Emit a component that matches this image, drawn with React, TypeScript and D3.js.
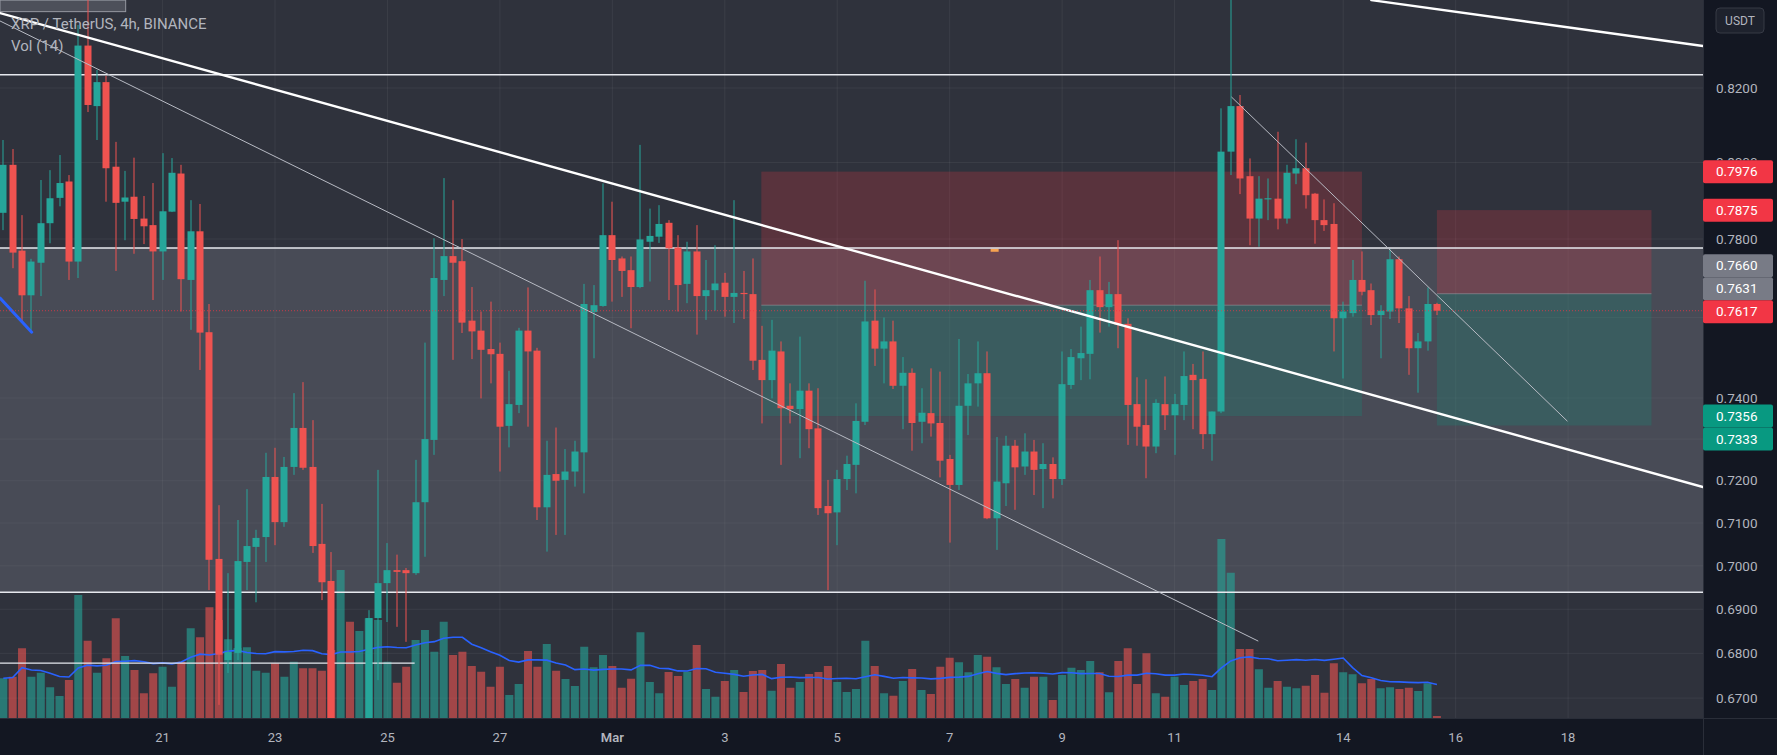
import React, { useEffect } from "react";
import * as d3 from "d3";

// ---------- DATA (4h bars, XRP/USDT, starting 2022-02-18 04:00 UTC) ----------
const OPEN = [
  0.7868, 0.7994, 0.7770, 0.7656, 0.7739, 0.7841, 0.7907, 0.7950, 0.7742, 0.8316,
  0.8151, 0.8216, 0.7989, 0.7897, 0.7910, 0.7853, 0.7836, 0.7768, 0.7871, 0.7971,
  0.7695, 0.7820, 0.7563, 0.7016, 0.6785, 0.6801, 0.7009, 0.7044, 0.7067, 0.7209,
  0.7102, 0.7233, 0.7327, 0.7233, 0.7051, 0.6965, 0.6600, 0.6630, 0.6590, 0.6640,
  0.6880, 0.6960, 0.6990, 0.6990, 0.6983, 0.7149, 0.7298, 0.7695, 0.7756, 0.7743,
  0.7592, 0.7567, 0.7521, 0.7509, 0.7332, 0.7383, 0.7567, 0.7517, 0.7137, 0.7216,
  0.7202, 0.7222, 0.7268, 0.7614, 0.7629, 0.7810, 0.7750, 0.7720, 0.7677, 0.7793,
  0.7806, 0.7842, 0.7778, 0.7685, 0.7768, 0.7654, 0.7669, 0.7688, 0.7652, 0.7662,
  0.7659, 0.7494, 0.7444, 0.7515, 0.7381, 0.7373, 0.7418, 0.7326, 0.7140, 0.7125,
  0.7204, 0.7238, 0.7342, 0.7592, 0.7522, 0.7540, 0.7430, 0.7462, 0.7342, 0.7363,
  0.7339, 0.7252, 0.7190, 0.7381, 0.7436, 0.7461, 0.7111, 0.7194, 0.7284, 0.7234,
  0.7270, 0.7228, 0.7240, 0.7204, 0.7432, 0.7498, 0.7509, 0.7669, 0.7626, 0.7659,
  0.7584, 0.7385, 0.7334, 0.7282, 0.7385, 0.7358, 0.7383, 0.7457, 0.7447, 0.7312,
  0.7367, 0.8029, 0.8151, 0.7964, 0.7853, 0.7903, 0.7905, 0.7853, 0.7971, 0.7985,
  0.7918, 0.7849, 0.7839, 0.7598, 0.7611, 0.7695, 0.7669, 0.7606, 0.7615, 0.7748,
  0.7623, 0.7523, 0.7540, 0.7634,
];
const HIGH = [
  0.8060, 0.8036, 0.7862, 0.7749, 0.7954, 0.7980, 0.8020, 0.7967, 0.8373, 0.8485,
  0.8249, 0.8233, 0.8055, 0.7978, 0.8013, 0.7912, 0.7946, 0.8025, 0.8012, 0.7994,
  0.7901, 0.7891, 0.7634, 0.7142, 0.6983, 0.7107, 0.7180, 0.7084, 0.7267, 0.7279,
  0.7257, 0.7412, 0.7439, 0.7346, 0.7145, 0.7032, 0.6640, 0.6645, 0.6640, 0.6898,
  0.7226, 0.7053, 0.7026, 0.6995, 0.7250, 0.7537, 0.7802, 0.7959, 0.7901, 0.7800,
  0.7677, 0.7615, 0.7640, 0.7537, 0.7467, 0.7574, 0.7676, 0.7524, 0.7296, 0.7328,
  0.7276, 0.7296, 0.7685, 0.7682, 0.7945, 0.7897, 0.7755, 0.7755, 0.8047, 0.7879,
  0.7888, 0.7849, 0.7810, 0.7793, 0.7836, 0.7746, 0.7784, 0.7713, 0.7901, 0.7718,
  0.7750, 0.7579, 0.7594, 0.7540, 0.7436, 0.7552, 0.7436, 0.7424, 0.7202, 0.7226,
  0.7260, 0.7387, 0.7693, 0.7671, 0.7600, 0.7592, 0.7501, 0.7473, 0.7424, 0.7473,
  0.7465, 0.7262, 0.7546, 0.7459, 0.7540, 0.7515, 0.7305, 0.7308, 0.7298, 0.7314,
  0.7298, 0.7290, 0.7256, 0.7515, 0.7521, 0.7577, 0.7695, 0.7755, 0.7690, 0.7797,
  0.7598, 0.7451, 0.7446, 0.7397, 0.7453, 0.7410, 0.7515, 0.7484, 0.7515, 0.7367,
  0.8145, 0.8456, 0.8181, 0.8011, 0.7964, 0.7958, 0.8082, 0.7994, 0.8062, 0.8053,
  0.7920, 0.7903, 0.7893, 0.7640, 0.7746, 0.7768, 0.7686, 0.7631, 0.7774, 0.7755,
  0.7654, 0.7561, 0.7676, 0.7637,
];
const LOW = [
  0.7823, 0.7725, 0.7589, 0.7567, 0.7654, 0.7789, 0.7885, 0.7695, 0.7700, 0.8135,
  0.8060, 0.7897, 0.7718, 0.7797, 0.7762, 0.7787, 0.7644, 0.7695, 0.7870, 0.7615,
  0.7569, 0.7469, 0.6944, 0.6685, 0.6756, 0.6785, 0.6944, 0.6916, 0.7009, 0.7048,
  0.7091, 0.7214, 0.7226, 0.7030, 0.6921, 0.6630, 0.6560, 0.6570, 0.6575, 0.6620,
  0.6740, 0.6871, 0.6860, 0.6826, 0.6979, 0.7021, 0.7262, 0.7654, 0.7494, 0.7561,
  0.7496, 0.7399, 0.7436, 0.7222, 0.7280, 0.7363, 0.7330, 0.7107, 0.7033, 0.7072,
  0.7072, 0.7186, 0.7170, 0.7498, 0.7627, 0.7640, 0.7652, 0.7573, 0.7674, 0.7691,
  0.7790, 0.7644, 0.7615, 0.7636, 0.7557, 0.7594, 0.7617, 0.7602, 0.7586, 0.7596,
  0.7469, 0.7338, 0.7399, 0.7238, 0.7338, 0.7254, 0.7278, 0.7119, 0.6944, 0.7048,
  0.7178, 0.7170, 0.7334, 0.7479, 0.7436, 0.7422, 0.7324, 0.7272, 0.7290, 0.7306,
  0.7208, 0.7054, 0.7178, 0.7310, 0.7379, 0.7109, 0.7037, 0.7140, 0.7131, 0.7214,
  0.7166, 0.7135, 0.7158, 0.7190, 0.7422, 0.7444, 0.7446, 0.7562, 0.7577, 0.7523,
  0.7286, 0.7284, 0.7206, 0.7266, 0.7322, 0.7262, 0.7346, 0.7324, 0.7276, 0.7248,
  0.7363, 0.7967, 0.7917, 0.7784, 0.7780, 0.7849, 0.7825, 0.7840, 0.7943, 0.7879,
  0.7788, 0.7821, 0.7515, 0.7448, 0.7602, 0.7656, 0.7581, 0.7498, 0.7596, 0.7586,
  0.7457, 0.7413, 0.7517, 0.7606,
];
const CLOSE = [
  0.7994, 0.7765, 0.7656, 0.7742, 0.7841, 0.7906, 0.7946, 0.7742, 0.8316, 0.8154,
  0.8216, 0.7985, 0.7894, 0.7908, 0.7852, 0.7833, 0.7768, 0.7872, 0.7973, 0.7697,
  0.7820, 0.7562, 0.7014, 0.6797, 0.6803, 0.7011, 0.7046, 0.7065, 0.7209, 0.7102,
  0.7233, 0.7327, 0.7231, 0.7046, 0.6962, 0.6648, 0.6630, 0.6590, 0.6630, 0.6880,
  0.6960, 0.6990, 0.6986, 0.6983, 0.7149, 0.7300, 0.7700, 0.7756, 0.7739, 0.7587,
  0.7565, 0.7519, 0.7508, 0.7330, 0.7385, 0.7567, 0.7515, 0.7137, 0.7214, 0.7200,
  0.7222, 0.7270, 0.7634, 0.7631, 0.7810, 0.7746, 0.7718, 0.7677, 0.7799, 0.7808,
  0.7839, 0.7776, 0.7682, 0.7768, 0.7654, 0.7669, 0.7686, 0.7652, 0.7662, 0.7659,
  0.7492, 0.7444, 0.7517, 0.7375, 0.7373, 0.7418, 0.7324, 0.7135, 0.7123, 0.7204,
  0.7240, 0.7344, 0.7590, 0.7522, 0.7540, 0.7430, 0.7462, 0.7339, 0.7364, 0.7338,
  0.7248, 0.7190, 0.7381, 0.7436, 0.7461, 0.7111, 0.7198, 0.7284, 0.7232, 0.7270,
  0.7226, 0.7240, 0.7204, 0.7434, 0.7501, 0.7511, 0.7669, 0.7626, 0.7659, 0.7582,
  0.7383, 0.7330, 0.7282, 0.7388, 0.7358, 0.7385, 0.7454, 0.7444, 0.7312, 0.7367,
  0.8029, 0.8151, 0.7958, 0.7853, 0.7905, 0.7906, 0.7853, 0.7973, 0.7985, 0.7914,
  0.7849, 0.7836, 0.7598, 0.7615, 0.7695, 0.7665, 0.7606, 0.7617, 0.7748, 0.7623,
  0.7523, 0.7540, 0.7634, 0.7617,
];
// volume in millions XRP
const VOLUME = [
  15.9, 16.5, 27.9, 16.5, 18.1, 12.3, 8.8, 15.2, 49.2, 30.9,
  18.1, 23.9, 39.9, 24.8, 19.2, 9.9, 17.9, 20.5, 12.5, 22.5,
  35.9, 32.3, 44.3, 39.2, 31.5, 28.0, 28.3, 18.9, 18.1, 21.9,
  16.5, 22.5, 19.9, 19.9, 18.9, 27.2, 59.2, 38.5, 34.8, 39.9,
  39.2, 22.5, 14.1, 20.5, 31.2, 35.2, 26.5, 38.5, 25.2, 26.5,
  20.8, 18.5, 12.5, 20.5, 9.2, 13.6, 26.8, 20.5, 29.6, 18.9,
  15.6, 12.8, 28.5, 20.3, 25.2, 20.8, 12.1, 15.7, 34.3, 14.4,
  9.9, 18.4, 16.8, 18.5, 29.2, 11.6, 8.5, 14.8, 19.2, 10.4,
  18.8, 19.2, 10.9, 21.6, 12.1, 14.4, 17.6, 18.4, 20.8, 14.4,
  10.4, 11.6, 30.9, 20.8, 9.9, 8.9, 14.8, 19.6, 11.2, 9.6,
  20.5, 24.1, 22.3, 18.3, 25.2, 24.5, 20.3, 13.6, 15.6, 12.1,
  16.5, 16.5, 7.2, 17.2, 20.1, 19.2, 22.8, 18.3, 10.3, 22.8,
  27.9, 13.6, 25.9, 9.9, 8.5, 16.5, 13.2, 14.8, 15.6, 11.2,
  71.6, 58.1, 27.6, 27.6, 19.5, 12.1, 14.8, 12.5, 11.9, 12.9,
  17.2, 10.1, 21.9, 18.3, 17.5, 13.9, 15.6, 11.9, 12.3, 11.6,
  12.1, 10.8, 13.9, 0.8,
];

// grid levels, and the axis labels that are visible
const GRID_TICKS = [0.82, 0.8, 0.78, 0.76, 0.74, 0.73, 0.72, 0.71, 0.7, 0.69, 0.68, 0.67];
const PRICE_TICKS = [0.82, 0.78, 0.74, 0.72, 0.71, 0.7, 0.69, 0.68, 0.67];
const PARTIAL_TICK = 0.8; // half hidden behind the 0.7976 label
const TIME_TICKS = [
  "2022-02-21", "2022-02-23", "2022-02-25", "2022-02-27", "2022-03-01", "2022-03-03",
  "2022-03-05", "2022-03-07", "2022-03-09", "2022-03-11", "2022-03-14", "2022-03-16", "2022-03-18",
];
const TIME_LABELS = ["21", "23", "25", "27", "Mar", "3", "5", "7", "9", "11", "14", "16", "18"];

// drawings, in (bar index, price)
const TRENDLINES = [
  { from: [-0.35, 0.8406], to: [181.4, 0.7185], kind: "thick" },
  { from: [-0.35, 0.8384], to: [133.9, 0.6828], kind: "thin" },
  { from: [146.0, 0.8442], to: [181.4, 0.8315], kind: "thick" },
  { from: [131.1, 0.8175], to: [166.9, 0.7344], kind: "thin" },
  { from: [-0.35, 0.7649], to: [3.03, 0.7563], kind: "blue" },
];
const HLINES = [
  { price: 0.8236, from: -1, to: 190 },
  { price: 0.7777, from: -1, to: 190 },
  { price: 0.6939, from: -1, to: 190 },
  { price: 0.6778, from: -0.35, to: 43.9 },
];
const RANGE_BOX = { top: 0.7777, bottom: 0.6939, from: -1, to: 190 };
const POSITIONS = [
  { from: 80.9, to: 145.0, stop: 0.7976, entry: 0.7631, target: 0.7356 },
  { from: 153.0, to: 175.9, stop: 0.7875, entry: 0.766, target: 0.7333 },
];
const NOTE_BOX = { from: -0.35, to: 13.06, top: 0.8442, bottom: 0.841 };
const MARKER = { bar: 105.8, price: 0.7771 };
const PRICE_LABELS = [
  { v: 0.7976, kind: "red" },
  { v: 0.7875, kind: "red" },
  { v: 0.766, kind: "gray" },
  { v: 0.7631, kind: "gray" },
  { v: 0.7617, kind: "red", current: true },
  { v: 0.7356, kind: "green" },
  { v: 0.7333, kind: "green" },
];

// ---------- STYLE ----------
const W = 1777;
const H = 755;
const PLOT_R = 1703;
const PLOT_B = 718;
const BG = "#2f323c";
const AXIS_BG = "#131722";
const UP = "#26a69a";
const DOWN = "#ef5350";
const TEXT = "#b2b5be";
const LABEL_COLORS: Record<string, string> = { red: "#f23645", gray: "#787b86", green: "#089981" };
const FONT = "Roboto, 'Liberation Sans', sans-serif";

const START = Date.UTC(2022, 1, 18, 4);
const barTime = (i: number) => new Date(START + i * 4 * 3600 * 1000);

export default function App() {
  useEffect(() => {
    document.body.style.margin = "0";
    document.body.style.overflow = "hidden";
    document.body.style.background = AXIS_BG;
  }, []);

  const n = CLOSE.length;
  const x = d3.scaleUtc().domain([barTime(0), barTime(n - 1)]).range([3.3, 3.3 + 9.37 * (n - 1)]);
  const xi = (i: number) => x(barTime(i));
  const y = d3.scaleLog().domain([0.67, 0.82]).range([698.1, 88]);
  const vy = d3.scaleLinear().domain([0, 80]).range([PLOT_B, PLOT_B - 200]);

  const ma = VOLUME.map((_, i) => d3.mean(VOLUME.slice(Math.max(0, i - 13), i + 1)) as number);
  const maLine = d3.line<number>().x((_, i) => xi(i)).y((v) => vy(v))(ma) || "";

  // price label layout: keep current fixed, push others away
  const LH = 23;
  const labels = PRICE_LABELS.map((l) => ({ ...l, y: y(l.v) }));
  const cur = labels.find((l) => l.current)!;
  cur.y = cur.y + 1;
  const above = labels.filter((l) => !l.current && l.y < cur.y).sort((a, b) => b.y - a.y);
  let prev = cur.y;
  for (const l of above) { l.y = Math.min(l.y, prev - LH); prev = l.y; }
  const below = labels.filter((l) => !l.current && l.y >= cur.y).sort((a, b) => a.y - b.y);
  prev = cur.y;
  for (const l of below) { l.y = Math.max(l.y, prev + LH); prev = l.y; }
  const topLabel = labels.reduce((a, b) => (b.y < a.y ? b : a));

  const fmt = d3.format(".4f");
  const tickDates = TIME_TICKS.map((s) => new Date(s + "T00:00:00Z"));

  return (
    <svg width={W} height={H} style={{ position: "absolute", left: 0, top: 0, display: "block" }}>
      <defs>
        <clipPath id="plot">
          <rect x={0} y={0} width={PLOT_R} height={PLOT_B} />
        </clipPath>
        <clipPath id="partial">
          <rect x={PLOT_R} y={0} width={W - PLOT_R} height={topLabel.y - LH / 2} />
        </clipPath>
      </defs>
      <rect x={0} y={0} width={W} height={H} fill={AXIS_BG} />
      <g clipPath="url(#plot)">
        <rect x={0} y={0} width={PLOT_R} height={PLOT_B} fill={BG} />
        {/* grid */}
        {GRID_TICKS.map((t) => (
          <line key={"gy" + t} x1={0} x2={PLOT_R} y1={y(t)} y2={y(t)} stroke="rgba(255,255,255,0.06)" />
        ))}
        {tickDates.map((d, k) => (
          <line key={"gx" + k} x1={x(d)} x2={x(d)} y1={0} y2={PLOT_B} stroke="rgba(255,255,255,0.06)" />
        ))}
        {/* range box */}
        <rect
          x={xi(RANGE_BOX.from)}
          width={xi(RANGE_BOX.to) - xi(RANGE_BOX.from)}
          y={y(RANGE_BOX.top)}
          height={y(RANGE_BOX.bottom) - y(RANGE_BOX.top)}
          fill="rgba(120,123,134,0.35)"
        />
        {/* note box top-left */}
        <rect
          x={xi(NOTE_BOX.from)}
          width={xi(NOTE_BOX.to) - xi(NOTE_BOX.from)}
          y={y(NOTE_BOX.top)}
          height={y(NOTE_BOX.bottom) - y(NOTE_BOX.top)}
          fill="#4d505a"
          stroke="#9598a1"
        />
        {/* positions */}
        {POSITIONS.map((p, k) => {
          const x0 = xi(p.from);
          const w = xi(p.to) - x0;
          return (
            <g key={"pos" + k}>
              <rect x={x0} width={w} y={y(p.stop)} height={y(p.entry) - y(p.stop)} fill="rgba(242,54,69,0.22)" />
              <rect x={x0} width={w} y={y(p.entry)} height={y(p.target) - y(p.entry)} fill="rgba(8,153,129,0.22)" />
              <line x1={x0} x2={x0 + w} y1={y(p.entry)} y2={y(p.entry)} stroke="rgba(200,200,210,0.35)" />
            </g>
          );
        })}
        <rect x={xi(MARKER.bar) - 4} y={y(MARKER.price) - 1.5} width={8} height={3} fill="#f7a350" />
        {/* volume */}
        {VOLUME.map((v, i) => (
          <rect
            key={"v" + i}
            x={xi(i) - 4}
            width={8}
            y={vy(v)}
            height={PLOT_B - vy(v)}
            fill={CLOSE[i] >= OPEN[i] ? "rgba(38,166,154,0.6)" : "rgba(239,83,80,0.6)"}
          />
        ))}
        <path d={maLine} fill="none" stroke="#2962ff" strokeWidth={1.6} />
        {/* horizontal lines */}
        {HLINES.map((h, k) => (
          <line
            key={"h" + k}
            x1={xi(h.from)}
            x2={xi(h.to)}
            y1={y(h.price)}
            y2={y(h.price)}
            stroke="#e6e8ee"
            strokeWidth={k < 3 ? 1.5 : 1.2}
          />
        ))}
        {/* candles */}
        {CLOSE.map((c, i) => {
          const o = OPEN[i];
          const col = c >= o ? UP : DOWN;
          const cx = Math.round(xi(i));
          const top = y(Math.max(o, c));
          const bot = y(Math.min(o, c));
          return (
            <g key={"c" + i}>
              <rect x={cx - 0.5} width={1} y={y(HIGH[i])} height={y(LOW[i]) - y(HIGH[i])} fill={col} />
              <rect x={cx - 3.5} width={7} y={top} height={Math.max(1, bot - top)} fill={col} />
            </g>
          );
        })}
        {/* trendlines */}
        {TRENDLINES.map((t, k) => (
          <line
            key={"t" + k}
            x1={xi(t.from[0])}
            y1={y(t.from[1])}
            x2={xi(t.to[0])}
            y2={y(t.to[1])}
            stroke={t.kind === "blue" ? "#2962ff" : t.kind === "thick" ? "#ffffff" : "#b8bbc4"}
            strokeWidth={t.kind === "blue" ? 3 : t.kind === "thick" ? 2.4 : 1}
            strokeLinecap="round"
          />
        ))}
        {/* current price line */}
        <line
          x1={0}
          x2={PLOT_R}
          y1={y(CLOSE[n - 1])}
          y2={y(CLOSE[n - 1])}
          stroke="rgba(242,54,69,0.75)"
          strokeDasharray="1 2"
        />
        {/* legend */}
        <text x={11} y={29} fill={TEXT} fontSize={15} fontFamily={FONT}>
          XRP / TetherUS, 4h, BINANCE
        </text>
        <text x={11} y={51} fill={TEXT} fontSize={15} fontFamily={FONT}>
          Vol (14)
        </text>
      </g>

      {/* axes */}
      <rect x={PLOT_R} y={0} width={W - PLOT_R} height={H} fill={AXIS_BG} />
      <rect x={0} y={PLOT_B} width={PLOT_R} height={H - PLOT_B} fill={AXIS_BG} />
      <line x1={PLOT_R + 0.5} x2={PLOT_R + 0.5} y1={0} y2={H} stroke="#2a2e39" />
      <line x1={0} x2={W} y1={PLOT_B + 0.5} y2={PLOT_B + 0.5} stroke="#2a2e39" />
      <rect x={1716} y={8} width={48} height={25} rx={4} fill="#1e222d" stroke="#363a45" />
      <text x={1740} y={25} textAnchor="middle" fill={TEXT} fontSize={12} fontFamily={FONT}>
        USDT
      </text>
      {PRICE_TICKS.map((t) => (
        <text key={"pt" + t} x={1716} y={y(t)} dy="0.35em" fill={TEXT} fontSize={13.5} fontFamily={FONT}>
          {fmt(t)}
        </text>
      ))}
      <g clipPath="url(#partial)">
        <text x={1716} y={y(PARTIAL_TICK)} dy="0.35em" fill={TEXT} fontSize={13.5} fontFamily={FONT}>
          {fmt(PARTIAL_TICK)}
        </text>
      </g>
      {labels.map((l, k) => (
        <g key={"pl" + k}>
          <rect x={PLOT_R} y={l.y - LH / 2} width={70} height={LH} rx={2} fill={LABEL_COLORS[l.kind]} />
          <text x={1716} y={l.y} dy="0.35em" fill="#ffffff" fontSize={13.5} fontFamily={FONT}>
            {fmt(l.v)}
          </text>
        </g>
      ))}
      {tickDates.map((d, k) => (
        <text
          key={"tt" + k}
          x={x(d)}
          y={742}
          textAnchor="middle"
          fill={TEXT}
          fontSize={13}
          fontWeight={TIME_LABELS[k] === "Mar" ? 600 : 400}
          fontFamily={FONT}
        >
          {TIME_LABELS[k]}
        </text>
      ))}
    </svg>
  );
}
